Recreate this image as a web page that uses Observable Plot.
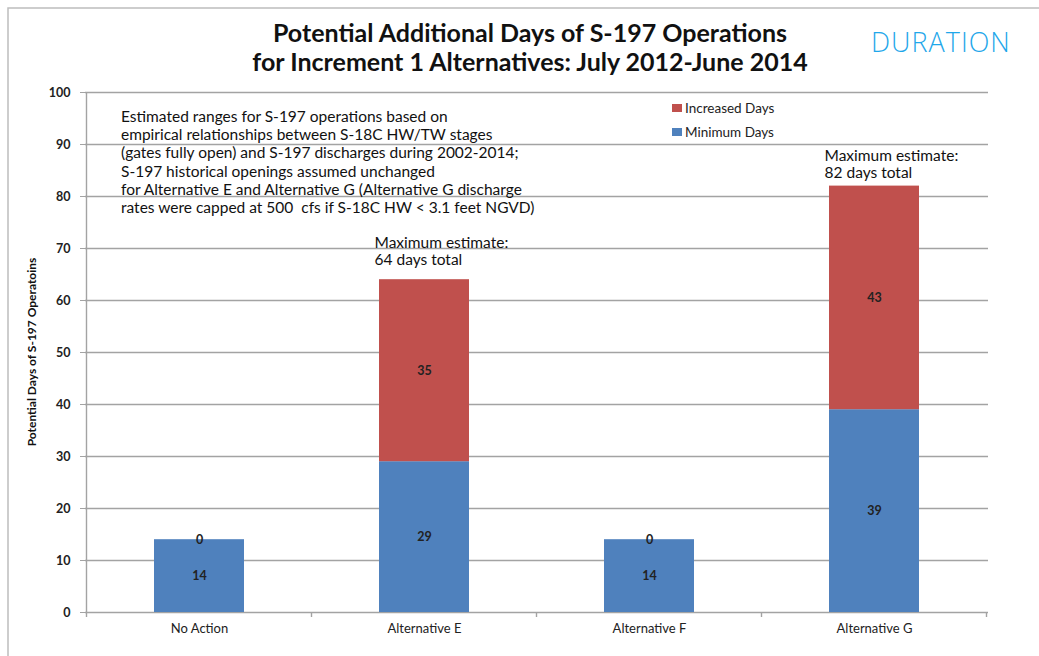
<!DOCTYPE html>
<html><head><meta charset="utf-8">
<script src="https://cdn.jsdelivr.net/npm/d3@7"></script>
<script src="https://cdn.jsdelivr.net/npm/@observablehq/plot@0.6"></script>
<style>body{margin:0;background:#fff} svg{display:block}</style>
</head><body><div id="chart"></div>
<script>
const categories = ["No Action", "Alternative E", "Alternative F", "Alternative G"];
const minimumDays = [14, 29, 14, 39];
const increasedDays = [0, 35, 0, 43];
const seriesNames = ["Minimum Days", "Increased Days"];
const seriesColors = ["#4f81bd", "#c0504d"];
const yTicks = [0, 10, 20, 30, 40, 50, 60, 70, 80, 90, 100];
const maxNoteCats = ["Alternative E", "Alternative G"];
const maxNoteTotals = [64, 82];
const titleLines = ["Potential Additional Days of S-197 Operations", "for Increment 1 Alternatives: July 2012-June 2014"];
const noteLines = [
  "Estimated ranges for S-197 operations based on",
  "empirical relationships between S-18C HW/TW stages",
  "(gates fully open) and S-197 discharges during 2002-2014;",
  "S-197 historical openings assumed unchanged",
  "for Alternative E and Alternative G (Alternative G discharge",
  "rates were capped at 500  cfs if S-18C HW < 3.1 feet NGVD)"
];
const yLabel = "Potential Days of S-197 Operatoins";
const cornerLabel = "DURATION";

const FONT = "Lato, 'Open Sans', sans-serif";

const rows = categories.flatMap((c, i) => [
  {cat: c, series: seriesNames[0], value: minimumDays[i]},
  {cat: c, series: seriesNames[1], value: increasedDays[i]}
]);
const notes = maxNoteCats.map((c, i) => ({cat: c, total: maxNoteTotals[i]}));
const noteOpts = {x: "cat", y: "total", text: d => `Maximum estimate:\n${d.total} days total`, textAnchor: "start", lineAnchor: "bottom", dx: -50, fontSize: 15.5, lineHeight: 1.1, fill: "#111"};

const W = 1039, H = 656;
const chart = Plot.plot({
  width: W, height: H,
  marginLeft: 85, marginRight: 51, marginTop: 92, marginBottom: 44,
  style: {fontFamily: FONT, background: "#fff", color: "#222"},
  x: {domain: categories, paddingInner: 0.6, paddingOuter: 0.3, label: null},
  y: {domain: [0, 100], label: null},
  color: {domain: seriesNames, range: seriesColors},
  marks: [
    Plot.ruleY(yTicks, {stroke: "#a3a3a3", strokeWidth: 1.4}),
    Plot.barY(rows, {x: "cat", y: "value", fill: "series", z: "series", order: seriesNames}),
    Plot.text(rows, Plot.stackY({x: "cat", y: "value", z: "series", text: d => String(d.value), order: seriesNames, fontSize: 12.5, fontWeight: "bold", fill: "#222"})),
    Plot.text(notes.slice(0, 1), {...noteOpts, dy: -15}),
    Plot.text(notes.slice(1), {...noteOpts, dy: -8}),
    Plot.axisY({ticks: yTicks, tickSize: 5, tickPadding: 10, stroke: "#a3a3a3", fill: "#222", fontSize: 12.5, fontWeight: "bold", label: null}),
    Plot.axisX({tickSize: 0, tickPadding: 11, fill: "#222", fontSize: 13, label: null})
  ]
});
document.getElementById("chart").appendChild(chart);

const svg = d3.select(chart);
const sx = chart.scale("x"), sy = chart.scale("y");
const step = sx.step, bw = sx.bandwidth;
const y0 = sy.apply(0), y100 = sy.apply(100);
const xStart = sx.apply(categories[0]) - (step - bw) / 2;

// y axis line
svg.append("line").attr("x1", xStart).attr("x2", xStart).attr("y1", y100).attr("y2", y0)
  .attr("stroke", "#a3a3a3").attr("stroke-width", 1.4);
// category boundary ticks
for (let i = 0; i <= categories.length; i++) {
  const bx = xStart + i * step;
  svg.append("line").attr("x1", bx).attr("x2", bx).attr("y1", y0).attr("y2", y0 + 5)
    .attr("stroke", "#a3a3a3").attr("stroke-width", 1.4);
}
// frame
svg.append("rect").attr("x", 8).attr("y", 8).attr("width", W + 20).attr("height", H + 20)
  .attr("fill", "none").attr("stroke", "#bdbdbd").attr("stroke-width", 1.5);

// title
svg.append("text").attr("text-anchor", "middle")
  .attr("font-family", FONT).attr("font-weight", "bold").attr("font-size", 25).attr("fill", "#111")
  .selectAll("tspan").data(titleLines).join("tspan")
  .attr("x", 530).attr("y", (d, i) => 42 + i * 29).text(d => d);

// corner label
svg.append("text").attr("x", 871).attr("y", 52).attr("text-anchor", "start")
  .attr("font-family", "'Open Sans', sans-serif").attr("letter-spacing", 1)
  .attr("font-weight", 300).attr("font-size", 27).attr("fill", "#1fa7ea").text(cornerLabel);

// note block
svg.append("text").attr("text-anchor", "start").attr("font-family", FONT).attr("font-size", 15.5).attr("fill", "#111")
  .selectAll("tspan").data(noteLines).join("tspan")
  .attr("x", 121).attr("y", (d, i) => 122 + i * 18.2).text(d => d);

// legend
const legendItems = [seriesNames[1], seriesNames[0]];
const leg = svg.append("g").attr("text-anchor", "start").attr("font-family", FONT).attr("font-size", 13.5).attr("fill", "#222");
legendItems.forEach((name, i) => {
  const cy = 108 + i * 24;
  leg.append("rect").attr("x", 672).attr("y", cy - 4).attr("width", 10).attr("height", 8)
    .attr("fill", chart.scale("color").apply(name));
  leg.append("text").attr("x", 685).attr("y", cy).attr("dy", "0.35em").text(name);
});

// y axis title
svg.append("text").attr("transform", `translate(36,${(y0 + y100) / 2}) rotate(-90)`)
  .attr("text-anchor", "middle").attr("font-family", FONT).attr("font-weight", "bold")
  .attr("font-size", 12).attr("fill", "#111").text(yLabel);
</script>
</body></html>
